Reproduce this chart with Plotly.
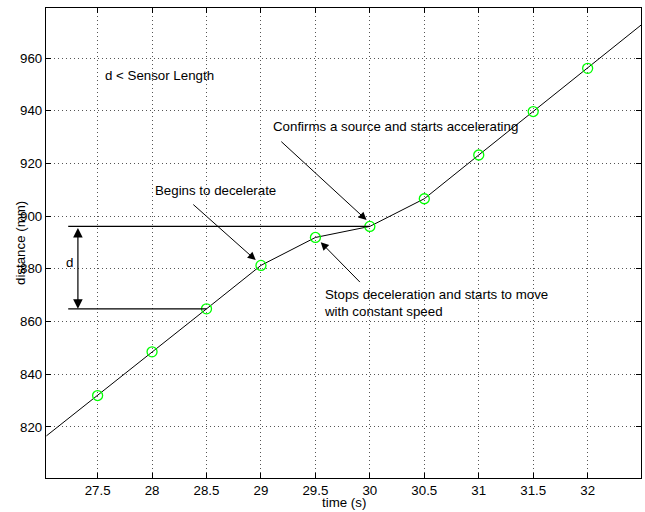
import plotly.graph_objects as go

# Sample points (green circles)
time_s = [27.5, 28, 28.5, 29, 29.5, 30, 30.5, 31, 31.5, 32]
distance_mm = [831.9, 848.5, 864.8, 881.3, 891.9, 896.1, 906.6, 923.2, 939.7, 956.1]

# Trajectory line (extends to the axis edges)
line_t = [27.03, 27.5, 28, 28.5, 29, 29.5, 30, 30.5, 31, 31.5, 32, 32.49]
line_d = [816.6, 831.9, 848.5, 864.8, 881.3, 891.9, 896.1, 906.6, 923.2, 939.7, 956.1, 972.5]

x_ticks = [27.5, 28, 28.5, 29, 29.5, 30, 30.5, 31, 31.5, 32]
x_tick_labels = ["27.5", "28", "28.5", "29", "29.5", "30", "30.5", "31", "31.5", "32"]
y_ticks = [820, 840, 860, 880, 900, 920, 940, 960]
y_tick_labels = ["820", "840", "860", "880", "900", "920", "940", "960"]

x_range = [27.026, 32.49]
y_range = [800.6, 979.0]

# Annotation texts
txt_begin = "Begins to decelerate"
txt_confirm = "Confirms a source and starts accelerating"
txt_stop = "Stops deceleration and starts to move<br>with constant speed"
txt_cond = "d < Sensor Length"
x_title = "time (s)"
y_title = "distance (mm)"

# d bracket: levels and x positions
d_low, d_high = 864.8, 896.1
bracket_x0 = 27.23
d_arrow_x = 27.319

FONT = "Liberation Sans, Arial, Helvetica, sans-serif"
FS = 13.3

W, H = 645, 512
ML, MR, MT, MB = 46, 4, 8, 34
pw, ph = W - ML - MR, H - MT - MB

fig = go.Figure()
fig.add_trace(go.Scatter(x=line_t, y=line_d, mode="lines",
                         line=dict(color="black", width=1), hoverinfo="skip"))
fig.add_trace(go.Scatter(x=time_s, y=distance_mm, mode="markers",
                         marker=dict(symbol="circle-open", size=10,
                                     color="#00ff00", line=dict(width=1.3, color="#00ff00"))))

# horizontal reference lines
fig.add_shape(type="line", x0=bracket_x0, x1=30, y0=d_high, y1=d_high,
              line=dict(color="black", width=1.2))
fig.add_shape(type="line", x0=bracket_x0, x1=28.5, y0=d_low, y1=d_low,
              line=dict(color="black", width=1.2))

ann = []
# double arrow for d
ann.append(dict(x=d_arrow_x, y=d_low, ax=d_arrow_x, ay=d_high, axref="x", ayref="y",
                xref="x", yref="y", showarrow=True, arrowhead=2, startarrowhead=2,
                arrowside="end+start", arrowsize=1.6, startarrowsize=1.6,
                arrowwidth=1.2, arrowcolor="black", text="", standoff=0, startstandoff=0))
ann.append(dict(x=27.24, y=882.3, xref="x", yref="y", text="d", showarrow=False,
                font=dict(size=FS, color="black", family=FONT)))
# arrows
arrows = [
    ((28.952, 883.3), (28.365, 904.9)),
    ((29.97, 898.5), (29.173, 928.8)),
    ((29.549, 890.1), (29.922, 874.4)),
]
for (hx, hy), (tx, ty) in arrows:
    ann.append(dict(x=hx, y=hy, ax=tx, ay=ty, axref="x", ayref="y", xref="x", yref="y",
                    showarrow=True, arrowhead=2, arrowsize=1.6, arrowwidth=1,
                    arrowcolor="black", text="", standoff=0, startstandoff=0))
# texts
texts = [
    (28.005, 909.6, txt_begin),
    (29.096, 933.9, txt_confirm),
    (29.56, 866.9, txt_stop),
    (27.546, 953.3, txt_cond),
]
for tx, ty, t in texts:
    ann.append(dict(x=tx, y=ty, xref="x", yref="y", text=t, showarrow=False,
                    xanchor="left", yanchor="middle", align="left",
                    font=dict(size=FS, color="black", family=FONT)))
# axis titles (positioned in pixels converted to paper coords)
ann.append(dict(x=(343.5 - ML) / pw, y=(H - MB - 502) / ph, xref="paper", yref="paper",
                text=x_title, showarrow=False, xanchor="center", yanchor="middle",
                font=dict(size=FS, color="black", family=FONT)))
ann.append(dict(x=(20 - ML) / pw, y=(H - MB - 243) / ph, xref="paper", yref="paper",
                text=y_title, showarrow=False, textangle=-90,
                xanchor="center", yanchor="middle",
                font=dict(size=FS, color="black", family=FONT)))
fig.update_layout(annotations=ann)

axis_common = dict(showline=True, linecolor="black", linewidth=1.2, mirror="allticks",
                   ticks="inside", ticklen=5, tickcolor="black", tickwidth=1,
                   showgrid=True, gridcolor="#555555", griddash="1px,3px", gridwidth=1,
                   zeroline=False, tickfont=dict(size=FS, color="black", family=FONT))
fig.update_xaxes(range=x_range, tickvals=x_ticks, ticktext=x_tick_labels, **axis_common)
fig.update_yaxes(range=y_range, tickvals=y_ticks, ticktext=y_tick_labels, **axis_common)

fig.update_layout(width=W, height=H, margin=dict(l=ML, r=MR, t=MT, b=MB),
                  plot_bgcolor="white", paper_bgcolor="white", showlegend=False,
                  font=dict(family=FONT, color="black"))
fig.write_html("out.html")
